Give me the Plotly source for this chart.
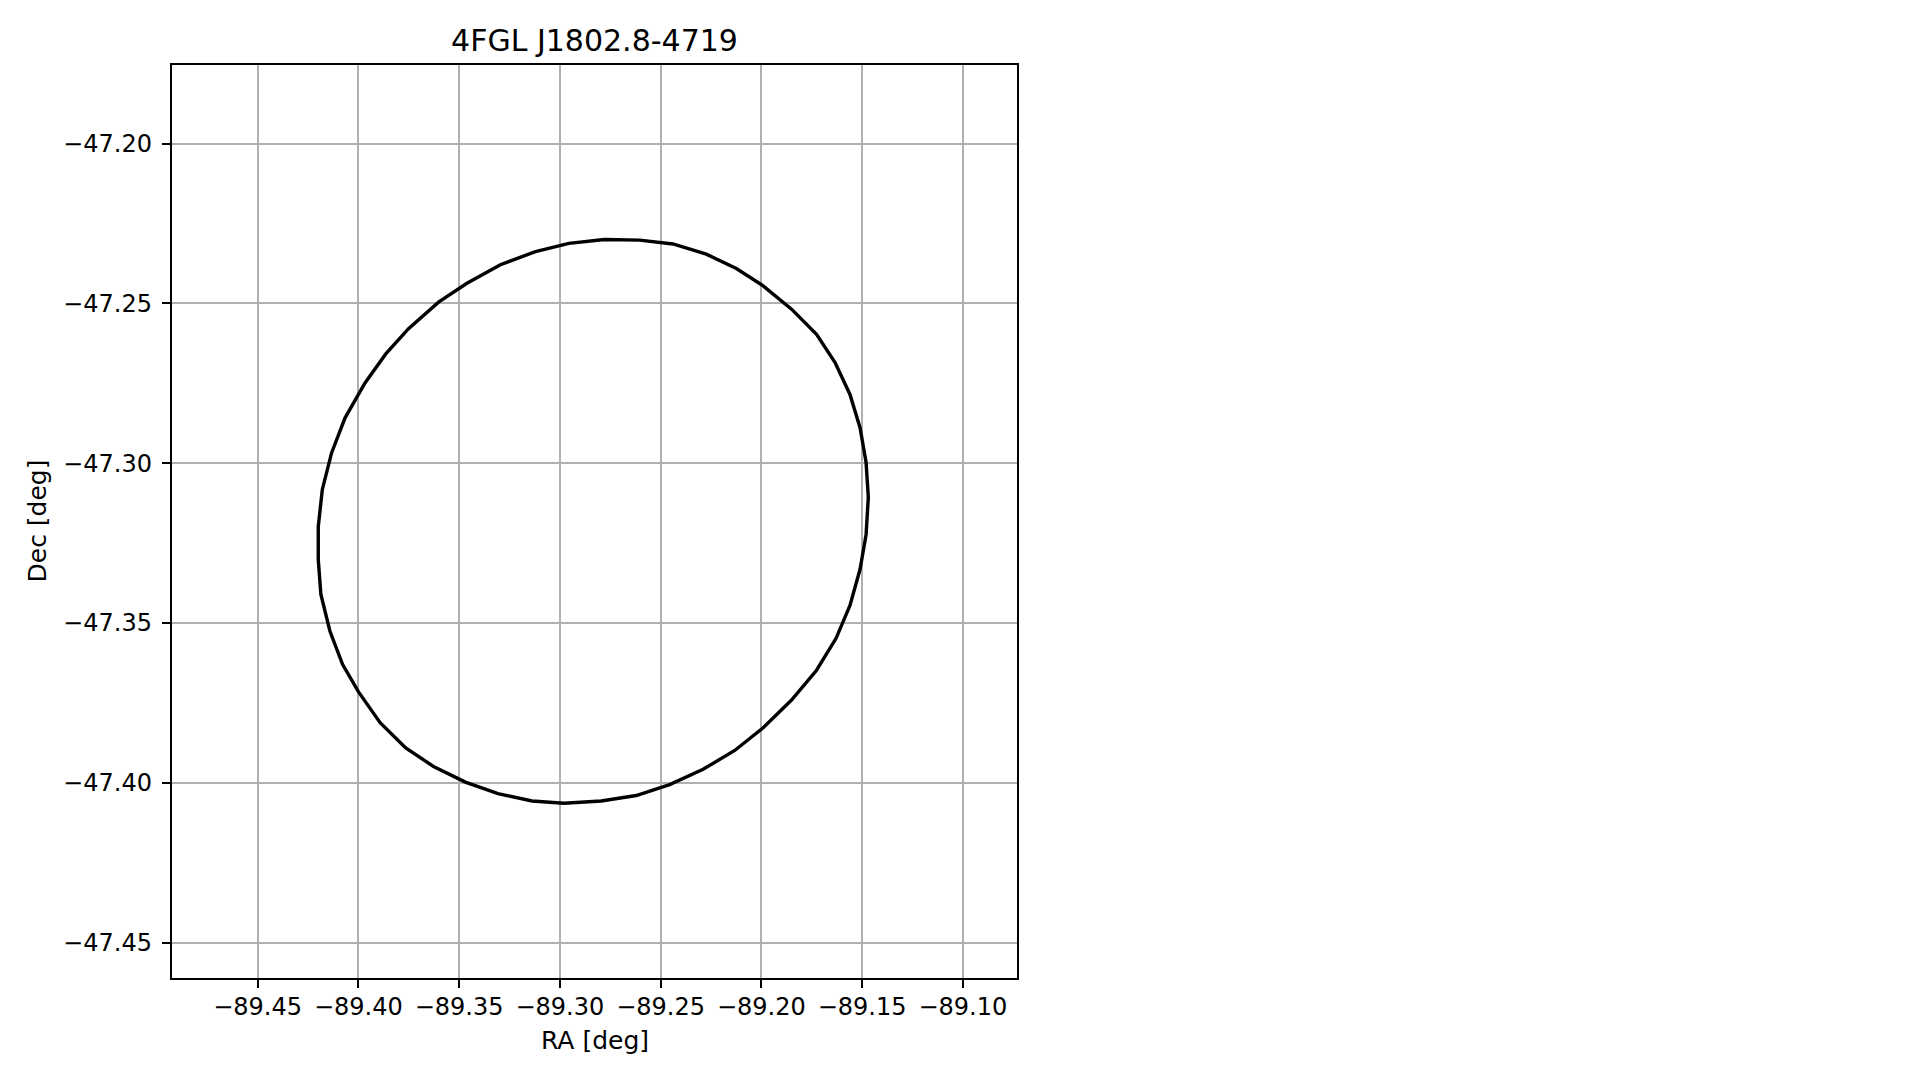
import plotly.graph_objects as go

title_text = "4FGL J1802.8-4719"
x_label = "RA [deg]"
y_label = "Dec [deg]"

ra_deg = [
    -89.2779, -89.2604, -89.2439, -89.2273, -89.2124, -89.1991, -89.1850, -89.1726,
    -89.1634, -89.1560, -89.1510, -89.1480, -89.1469, -89.1480, -89.1510, -89.1560,
    -89.1629, -89.1726, -89.1850, -89.1991, -89.2132, -89.2289, -89.2455, -89.2621,
    -89.2795, -89.2980, -89.3138, -89.3307, -89.3469, -89.3627, -89.3765, -89.3892,
    -89.4000, -89.4078, -89.4141, -89.4186, -89.4199, -89.4199, -89.4179, -89.4133,
    -89.4066, -89.3967, -89.3864, -89.3751, -89.3602, -89.3461, -89.3295, -89.3121,
    -89.2955, -89.2779,
]
dec_deg = [
    -47.2300, -47.2302, -47.2314, -47.2346, -47.2391, -47.2445, -47.2518, -47.2597,
    -47.2685, -47.2785, -47.2889, -47.2998, -47.3107, -47.3223, -47.3332, -47.3445,
    -47.3548, -47.3648, -47.3741, -47.3828, -47.3899, -47.3958, -47.4006, -47.4040,
    -47.4057, -47.4064, -47.4057, -47.4034, -47.3998, -47.3949, -47.3891, -47.3812,
    -47.3715, -47.3630, -47.3526, -47.3411, -47.3302, -47.3198, -47.3083, -47.2968,
    -47.2858, -47.2749, -47.2658, -47.2579, -47.2496, -47.2437, -47.2379, -47.2338,
    -47.2312, -47.2300,
]

x_range = [-89.4925, -89.0731]
y_range = [-47.4611, -47.1754]
x_ticks = [-89.45, -89.40, -89.35, -89.30, -89.25, -89.20, -89.15, -89.10]
y_ticks = [-47.45, -47.40, -47.35, -47.30, -47.25, -47.20]

# figure sized to fit inside the window together with the 8px page margin
W, H = 1900, 1060
OFF = 8
S = 0.99
L, R, T, B = 171.5 * S - OFF + 2.4, 1027 * S - OFF, 65.5 * S - OFF, 988 * S - OFF
FONT = "DejaVu Sans"
TICK_SIZE = 24
LABEL_SIZE = 25
TITLE_SIZE = 30

fig = go.Figure()
fig.add_trace(go.Scatter(
    x=ra_deg, y=dec_deg, mode="lines",
    line=dict(color="black", width=3.4),
    hoverinfo="skip", showlegend=False,
))

axis_common = dict(
    showline=True, mirror=True, linecolor="black", linewidth=1.9,
    ticks="outside", ticklen=8.3, tickwidth=1.9, tickcolor="black",
    showgrid=True, gridcolor="#b0b0b0", gridwidth=1.9,
    zeroline=False, tickformat=".2f",
    tickfont=dict(family=FONT, size=TICK_SIZE, color="black"),
)

fig.update_xaxes(range=x_range, tickvals=x_ticks, ticklabelstandoff=-2, **axis_common)
fig.update_yaxes(range=y_range, tickvals=y_ticks, ticklabelstandoff=5, **axis_common)

fig.update_layout(
    width=W, height=H,
    margin=dict(l=L, r=W - R, t=T, b=H - B, pad=0),
    paper_bgcolor="white", plot_bgcolor="white",
    font=dict(family=FONT, color="black"),
    title=dict(
        text=title_text, x=0.5, xref="paper", xanchor="center",
        y=1 - (41 * S - OFF) / H, yref="container", yanchor="middle",
        font=dict(family=FONT, size=TITLE_SIZE, color="black"),
    ),
    annotations=[
        dict(text=x_label, x=0.5, y=0, xref="paper", yref="paper",
             xanchor="center", yanchor="middle", yshift=-62,
             showarrow=False, font=dict(family=FONT, size=LABEL_SIZE, color="black")),
        dict(text=y_label, x=0, y=0.5, xref="paper", yref="paper",
             xanchor="center", yanchor="middle", xshift=-135,
             textangle=-90, showarrow=False,
             font=dict(family=FONT, size=LABEL_SIZE, color="black")),
    ],
)

fig.write_html("out.html")
